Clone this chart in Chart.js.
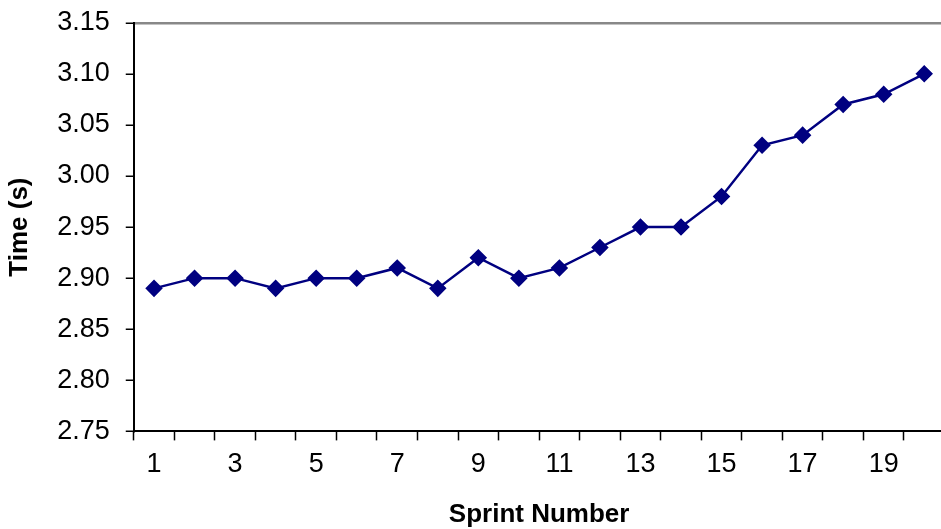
<!DOCTYPE html>
<html>
<head>
<meta charset="utf-8">
<script src="https://cdn.jsdelivr.net/npm/chart.js@4.4.0/dist/chart.umd.min.js"></script>
<style>
  html, body { margin: 0; padding: 0; background: #fff; overflow: hidden; }
  #wrap { width: 954px; height: 529px; }
</style>
</head>
<body>
<div id="wrap"><canvas id="sprints"></canvas></div>
<script>
// sprint times
const sprintNumbers = [1, 2, 3, 4, 5, 6, 7, 8, 9, 10, 11, 12, 13, 14, 15, 16, 17, 18, 19, 20];
const sprintTimes = [2.89, 2.90, 2.90, 2.89, 2.90, 2.90, 2.91, 2.89, 2.92, 2.90,
                     2.91, 2.93, 2.95, 2.95, 2.98, 3.03, 3.04, 3.07, 3.08, 3.10];
const timeMin = 2.75;
const timeMax = 3.15;
const timeStep = 0.05;

const font = "'Liberation Sans', Arial, sans-serif";

const ctx = document.querySelector('#sprints');
const sprintChart = new Chart(ctx, {
    type: 'line',
    data: {
        labels: sprintNumbers,
        datasets: [{
            label: 'Time (s)',
            data: sprintTimes,
            borderColor: '#000080',
            backgroundColor: '#000080',
            borderWidth: 2.5,
            pointStyle: 'rectRot',
            pointRadius: 7,
            pointHoverRadius: 7,
            lineTension: 0
        }]
    },
    options: {
        responsive: true,
        maintainAspectRatio: false,
        animation: false,
        layout: { padding: { left: 4, top: 0, right: 2, bottom: -1 } },
        plugins: { legend: { display: false }, tooltip: { enabled: false } },
        scales: {
            x: {
                offset: true,
                grid: {
                    offset: true,
                    drawOnChartArea: false,
                    tickColor: '#000',
                    tickLength: 9,
                    tickWidth: 1.5
                },
                border: { color: '#000', width: 2 },
                ticks: {
                    autoSkip: false,
                    maxRotation: 0,
                    color: '#000',
                    padding: 8,
                    font: { family: font, size: 27 },
                    callback: (v, i) => (i % 2 === 0 ? sprintNumbers[i] : '')
                },
                title: {
                    display: true,
                    text: 'Sprint Number',
                    color: '#000',
                    padding: { top: 10, bottom: 0 },
                    font: { family: font, size: 26, weight: 'bold' }
                }
            },
            y: {
                min: timeMin,
                max: timeMax,
                grid: {
                    color: c => (c.index === c.chart.scales.y.ticks.length - 1 ? '#888' : 'rgba(0,0,0,0)'),
                    lineWidth: 2.5,
                    tickColor: '#000',
                    tickLength: 8,
                    tickWidth: 1.5
                },
                border: { color: '#000', width: 2 },
                ticks: {
                    stepSize: timeStep,
                    color: '#000',
                    padding: 16,
                    font: { family: font, size: 27, lineHeight: 0.5 },
                    callback: v => v.toFixed(2)
                },
                title: {
                    display: true,
                    text: 'Time (s)',
                    color: '#000',
                    padding: { top: 0, bottom: 6 },
                    font: { family: font, size: 26, weight: 'bold' }
                }
            }
        }
    }
});
</script>
</body>
</html>
